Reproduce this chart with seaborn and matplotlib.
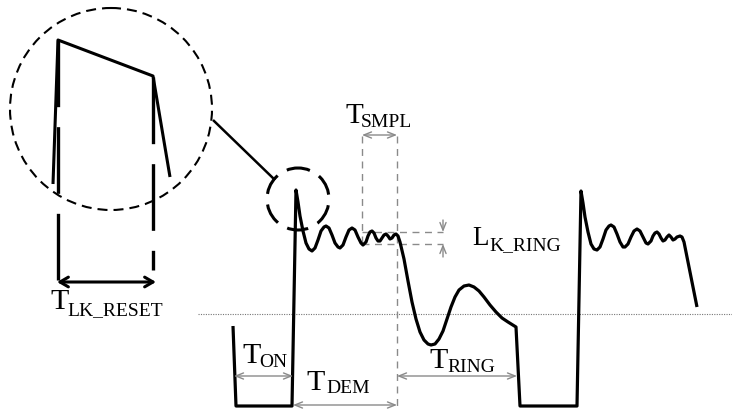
import matplotlib
matplotlib.use("Agg")
import matplotlib.pyplot as plt
import seaborn as sns
from matplotlib.patches import Circle

sns.set_style("white")
plt.rcParams['font.family'] = ['Liberation Serif', 'DejaVu Serif']

# ---- waveform (pixel-space schematic coordinates) ----
wave_x = [233, 236, 292, 296,
          298, 300, 303, 306, 309, 312, 315, 318, 321, 324, 326, 329, 332, 335, 338,
          340, 343, 346, 349, 352, 355, 358, 361, 363, 366, 368, 370, 372, 374, 376,
          378, 380, 382, 384, 386, 388, 390, 392, 394, 396, 398,
          400, 404, 408, 412, 416, 420, 424, 428, 431, 435, 439, 443, 447, 451, 455,
          459, 464, 469, 474, 479, 484, 490, 496, 502, 508, 516, 520, 577, 581,
          583, 585, 588, 591, 594, 597, 600, 603, 606, 609, 611, 614, 617, 620, 623,
          625, 628, 631, 634, 637, 640, 643, 646, 648, 651, 653, 655, 657, 659, 661,
          663, 665, 667, 669, 671, 673, 675, 677, 680, 682, 684, 697]
wave_y = [327, 407, 407, 191,
          203, 217, 232, 244, 250, 252, 249, 241, 232, 228, 227, 229, 236, 244, 248,
          249, 246, 238, 231, 229, 231, 238, 244, 246, 243, 237, 233, 232, 234, 239,
          242, 242, 239, 236, 235, 237, 240, 239, 236, 235, 237,
          243, 260, 282, 303, 320, 333, 341, 345, 346, 345, 340, 332, 320, 308, 298,
          291, 287, 286, 288, 292, 298, 306, 313, 319, 323, 328, 407, 407, 192,
          204, 218, 233, 245, 250, 251, 248, 240, 231, 227, 226, 228, 235, 243, 248,
          248, 245, 238, 232, 230, 232, 238, 244, 245, 242, 237, 234, 233, 235, 239,
          242, 241, 238, 236, 238, 241, 240, 238, 237, 238, 243, 308]

# zoomed-in inset waveform
zoom_x = [53, 58, 153, 170]
zoom_y = [185, 41, 77, 178]

# connector between magnifier and detail circle
conn_x = [213, 275]
conn_y = [121, 181]

# labels: (main letter, subscript, main x, main baseline, sub x, sub baseline, main size)
labels = [
    ("T", "SMPL", 346, 123, 361, 127, 21),
    ("L", "K_RING", 472, 245, 489, 250, 19.5),
    ("T", "ON", 242, 363, 259, 367, 21.5),
    ("T", "DEM", 306, 390, 326, 393, 21.5),
    ("T", "RING", 429, 368, 447, 372, 21.5),
    ("T", "LK_RESET", 50, 309, 67, 315, 21.5),
]
sub_size = 14

fig = plt.figure(figsize=(7.32, 4.10), dpi=100)
ax = fig.add_axes([0, 0, 1, 1])
ax.set_xlim(0, 732)
ax.set_ylim(410, 0)
ax.axis('off')

GRAY = '#8a8a8a'

# dotted reference level
ax.plot([198, 732], [315, 315], color='#777777', lw=0.8, linestyle=(0, (1, 1.2)))

# gray dashed guide lines
gd = dict(color=GRAY, lw=1.0, linestyle=(0, (5, 4)))
ax.plot([362, 362], [137, 245], **gd)
ax.plot([397, 397], [137, 407], **gd)
ax.plot([362, 443], [233, 233], **gd)
ax.plot([362, 443], [245, 245], **gd)

# gray arrows
ga = dict(arrowstyle='<->,head_length=0.55,head_width=0.22', color=GRAY, lw=1.0,
          shrinkA=0, shrinkB=0)
ax.annotate('', xy=(362, 136), xytext=(397, 136), arrowprops=ga)
ax.annotate('', xy=(234, 377), xytext=(293, 377), arrowprops=ga)
ax.annotate('', xy=(293, 406), xytext=(397, 406), arrowprops=ga)
ax.annotate('', xy=(397, 377), xytext=(517, 377), arrowprops=ga)
sa = dict(arrowstyle='->,head_length=0.55,head_width=0.22', color=GRAY, lw=1.0,
          shrinkA=0, shrinkB=0)
ax.annotate('', xy=(443, 233), xytext=(443, 221), arrowprops=sa)
ax.annotate('', xy=(443, 245), xytext=(443, 258), arrowprops=sa)

# main waveform
sns.lineplot(x=wave_x, y=wave_y, sort=False, estimator=None, ax=ax,
             color='black', lw=2.3)
# inset waveform
sns.lineplot(x=zoom_x, y=zoom_y, sort=False, estimator=None, ax=ax,
             color='black', lw=2.2)
# connector
sns.lineplot(x=conn_x, y=conn_y, sort=False, estimator=None, ax=ax,
             color='black', lw=1.8)
for ln in ax.get_lines():
    ln.set_solid_joinstyle('round')
    ln.set_solid_capstyle('butt')

# long black dashed verticals in the inset
bd = dict(color='black', lw=2.4, linestyle=(0, (20, 6)))
ax.plot([58, 58], [41, 286], **bd)
ax.plot([153, 153], [78, 271], **bd)

# black double arrow
ax.annotate('', xy=(57, 283), xytext=(156, 283),
            arrowprops=dict(arrowstyle='<->,head_length=0.6,head_width=0.35',
                            color='black', lw=2.2, shrinkA=0, shrinkB=0))

# circles
ax.add_patch(Circle((111, 110), 101, fill=False, edgecolor='black', lw=1.5,
                    linestyle=(0, (4.8, 2.9))))
ax.add_patch(Circle((298, 200), 31, fill=False, edgecolor='black', lw=2.2,
                    linestyle=(3, (7, 3.5))))

# labels
for main, sub, mx, my, sx, sy, msize in labels:
    ax.text(mx, my, main, fontsize=msize, ha='left', va='baseline', color='black')
    ax.text(sx, sy, sub, fontsize=sub_size, ha='left', va='baseline', color='black')

fig.savefig('out.png', dpi=100)
